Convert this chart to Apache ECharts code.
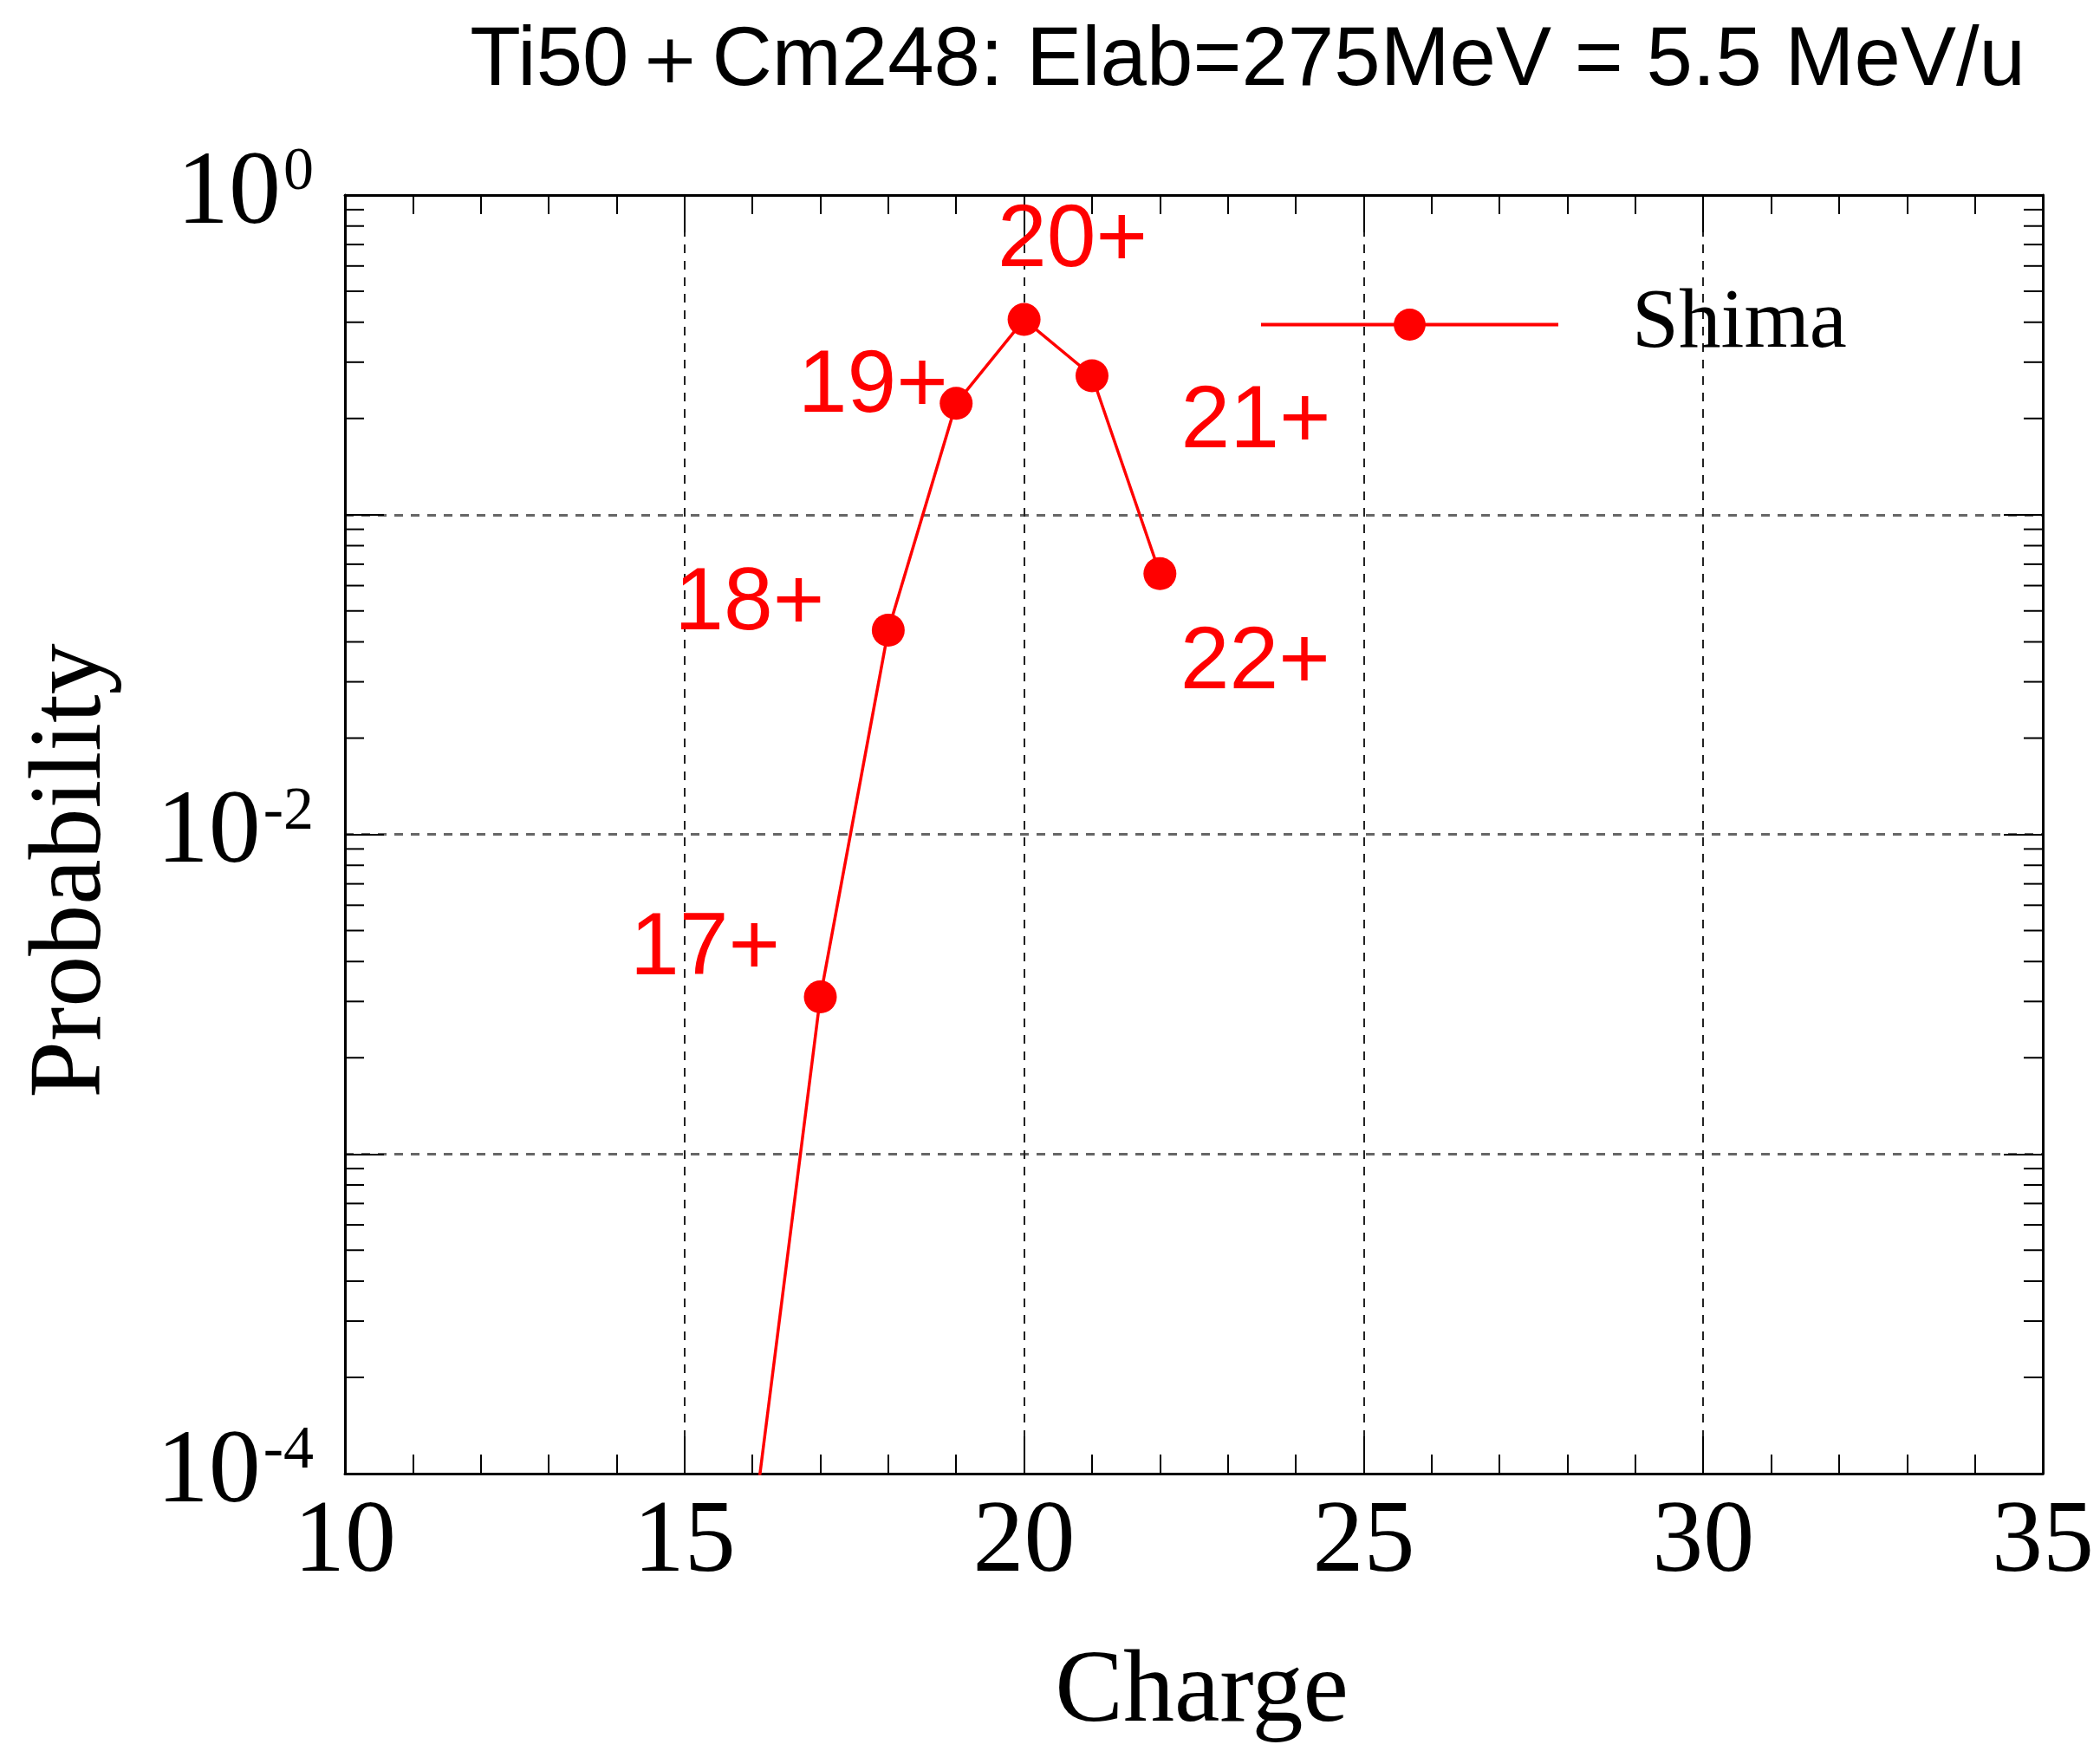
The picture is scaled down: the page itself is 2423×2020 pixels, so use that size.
<!DOCTYPE html>
<html><head><meta charset="utf-8">
<script src="https://cdn.jsdelivr.net/npm/echarts@6/dist/echarts.min.js"></script>
<style>html,body{margin:0;padding:0;background:#fff}#c{width:2423px;height:2020px}</style>
</head><body><div id="c"></div>
<script>
// ---- data ----
const chargeStates = [16, 17, 18, 19, 20, 21, 22];
const probabilities = [0.000065, 0.0031, 0.0435, 0.223, 0.408, 0.272, 0.0654];
const stateLabels = ['', '17+', '18+', '19+', '20+', '21+', '22+'];
const seriesName = 'Shima';
const titleText = 'Ti50＋Cm248: Elab=275MeV = 5.5 MeV/u';
const xAxisName = 'Charge';
const yAxisName = 'Probability';
const minorMantissas = [2, 3, 4, 5, 6, 7, 8, 9];
const minorDecades = [-4, -3, -2, -1];

// ---- layout (not data) ----
const labelOffsets = [[0,0],[-133,-54],[-160,-29],[-96,-18],[56,-90],[189,54],[110,104]];
const X_MIN = 10, X_MAX = 35;

const minorTickValues = [];
minorDecades.forEach(d => minorMantissas.forEach(m => minorTickValues.push(m * Math.pow(10, d))));

const serif = 'Liberation Serif';
const sans = 'Liberation Sans';

const lineData = chargeStates.map((c, i) => ({
  value: [c, probabilities[i]],
  label: { show: stateLabels[i] !== '', formatter: stateLabels[i], offset: labelOffsets[i] }
}));

const baseX = {
  type: 'value', min: X_MIN, max: X_MAX, interval: 5,
  axisLine: { show: true, onZero: false, lineStyle: { color: '#000', width: 3 } },
  axisTick: { show: true, inside: true, length: 43, lineStyle: { color: '#000', width: 2 } },
  minorTick: { show: true, splitNumber: 5, length: 22, lineStyle: { color: '#000', width: 2 } },
};
const baseY = {
  type: 'log', logBase: 10, min: 0.0001, max: 1, splitNumber: 4,
  axisLine: { show: true, onZero: false, lineStyle: { color: '#000', width: 3 } },
  axisTick: { show: true, inside: true, length: 45, lineStyle: { color: '#000', width: 2 } },
};

const option = {
  backgroundColor: '#fff',
  animation: false,
  title: {
    text: titleText, right: 81, top: 19,
    textStyle: { fontFamily: sans, fontSize: 96, fontWeight: 'normal', color: '#000' }
  },
  legend: {
    data: [seriesName],
    left: 1453, top: 326, padding: 0,
    itemWidth: 343, itemHeight: 46,
    lineStyle: { width: 4, color: '#ff0000' },
    textStyle: { fontFamily: serif, fontSize: 97, color: '#000', padding: [18, 0, 0, 80] }
  },
  grid: { left: 398, top: 225, right: 66, bottom: 320 },
  xAxis: [
    Object.assign({}, baseX, {
      position: 'bottom',
      name: xAxisName, nameLocation: 'middle', nameGap: 195,
      nameTextStyle: { fontFamily: serif, fontSize: 118, color: '#000', padding: [0, 0, 0, 18] },
      axisLabel: { margin: 22, fontFamily: serif, fontSize: 118, color: '#000' },
      splitLine: { show: true, lineStyle: { color: '#222', width: 2, type: [10, 9] } }
    }),
    Object.assign({}, baseX, {
      position: 'top', axisLabel: { show: false }, splitLine: { show: false }
    })
  ],
  yAxis: [
    Object.assign({}, baseY, {
      position: 'left',
      name: yAxisName, nameLocation: 'middle', nameRotate: 90, nameGap: 255,
      nameTextStyle: { fontFamily: serif, fontSize: 118, color: '#000', padding: [0, 84, 0, 0] },
      axisLabel: {
        margin: 36,
        formatter: v => {
          const e = Math.round(Math.log10(v));
          return (e % 2 === 0) ? '{a|10}{b|' + e + '}' : '';
        },
        rich: {
          a: { fontFamily: serif, fontSize: 120, color: '#000' },
          b: { fontFamily: serif, fontSize: 70, color: '#000', verticalAlign: 'top', padding: [0, 0, 0, 3] }
        }
      },
      splitLine: { show: true, lineStyle: { color: '#666', width: 3, type: [10, 9] } }
    }),
    Object.assign({}, baseY, {
      position: 'right', axisLabel: { show: false }, splitLine: { show: false }
    })
  ],
  series: [
    {
      type: 'custom', name: 'minorY', coordinateSystem: 'cartesian2d',
      xAxisIndex: 0, yAxisIndex: 0, silent: true, clip: false,
      data: minorTickValues.map(v => [X_MIN, v]),
      encode: { x: 0, y: 1 },
      renderItem: (params, api) => {
        const v = api.value(1);
        const p0 = api.coord([X_MIN, v]);
        const p1 = api.coord([X_MAX, v]);
        return {
          type: 'group', children: [
            { type: 'line', shape: { x1: p0[0], y1: p0[1], x2: p0[0] + 22, y2: p0[1] }, style: { stroke: '#000', lineWidth: 2 } },
            { type: 'line', shape: { x1: p1[0] - 22, y1: p1[1], x2: p1[0], y2: p1[1] }, style: { stroke: '#000', lineWidth: 2 } }
          ]
        };
      }
    },
    {
      type: 'line', name: seriesName, xAxisIndex: 0, yAxisIndex: 0,
      data: lineData, clip: true,
      symbol: 'circle', symbolSize: 38, showAllSymbol: true,
      itemStyle: { color: '#ff0000' },
      lineStyle: { color: '#ff0000', width: 3.5 },
      label: {
        show: true, position: 'inside', align: 'center', verticalAlign: 'middle',
        fontFamily: sans, fontSize: 102, color: '#ff0000'
      },
      z: 5
    }
  ]
};

const chart = echarts.init(document.getElementById('c'), null, { renderer: 'canvas' });
chart.setOption(option);
</script>
</body></html>
